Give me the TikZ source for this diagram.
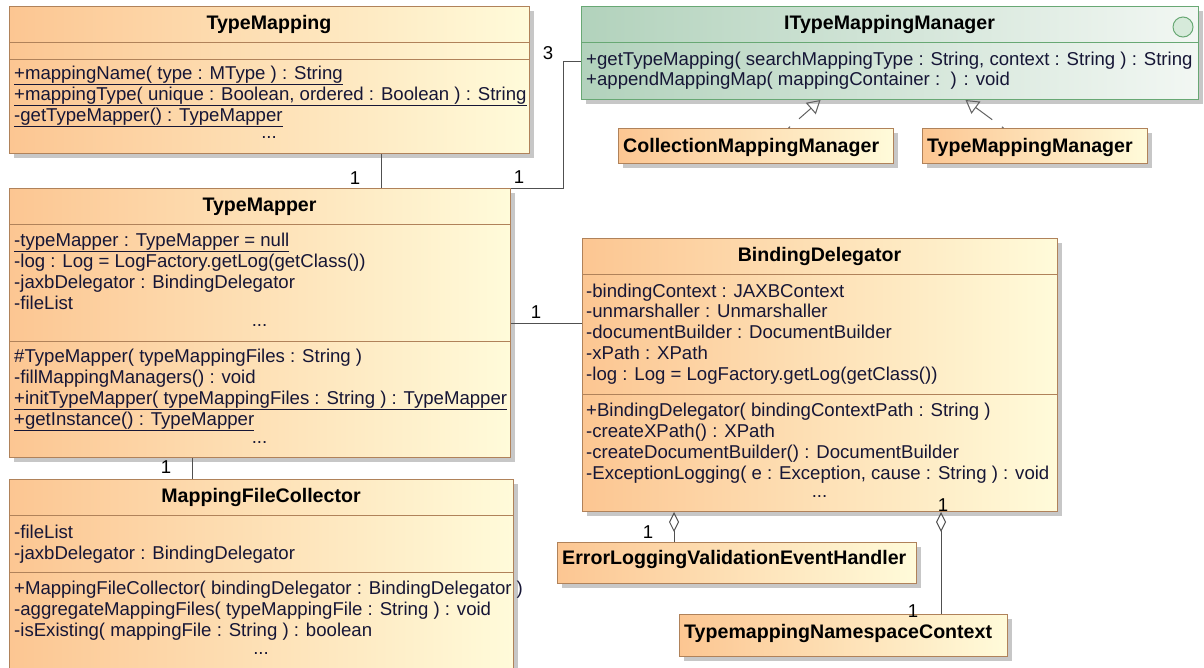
\documentclass[tikz,border=0pt]{standalone}
\usepackage{fontspec}
\setmainfont{Liberation Sans}
\usetikzlibrary{arrows.meta,shadows}

\definecolor{clsleft}{RGB}{252,198,146}
\definecolor{clsright}{RGB}{255,251,218}
\definecolor{clsborder}{RGB}{176,130,90}
\definecolor{ifleft}{RGB}{178,210,188}
\definecolor{ifright}{RGB}{242,247,243}
\definecolor{ifborder}{RGB}{104,168,116}
\definecolor{iconfill}{RGB}{214,234,218}
\definecolor{linkcol}{RGB}{80,80,80}
\definecolor{membercol}{RGB}{22,22,54}

\newcommand{\memfont}{\fontsize{18.6}{21}\selectfont}
\newcommand{\clsfont}{\fontsize{19.6}{22}\selectfont\bfseries}

\tikzset{
  classbox/.style={draw=clsborder, line width=1pt, left color=clsleft, right color=clsright,
    anchor=north west, inner sep=0pt,
    drop shadow={shadow xshift=4pt, shadow yshift=-4pt, fill=black!22, opacity=1}},
  ifacebox/.style={classbox, draw=ifborder, left color=ifleft, right color=ifright},
  sepline/.style={draw=clsborder, line width=1pt},
  ifsepline/.style={draw=ifborder, line width=1pt},
  clsname/.style={inner sep=0pt, font=\clsfont, text=black},
  member/.style={inner sep=0pt, anchor=base west, font=\memfont, text=membercol},
  dots/.style={inner sep=0pt, font=\memfont, text=membercol},
  mult/.style={inner sep=0pt, font=\memfont, text=black},
  link/.style={draw=linkcol, line width=1pt},
  realize/.style={draw=linkcol!90, line width=1pt, dash pattern=on 2pt off 12pt on 80pt,
    -{Triangle[open, length=13pt, width=15pt]}},
  aggr/.style={draw=linkcol, line width=1pt, -{Diamond[open, length=20pt, width=10pt]}}
}

\begin{document}
\begin{tikzpicture}[x=1pt, y=-1pt]
    \fill[white] (0,0) rectangle (1204,667);
    \useasboundingbox (0,0) rectangle (1204,667);

    % TypeMapping
    \node[classbox, minimum width=520pt, minimum height=147pt] (tmap) at (9,6) {};
    \draw[sepline] (tmap.west |- 0,42) -- (tmap.east |- 0,42);
    \draw[sepline] (tmap.west |- 0,59) -- (tmap.east |- 0,59);
    \node[clsname, anchor=base] (tmapname) at (269,29) {TypeMapping};
    \foreach \txt [count=\i] in {{\underline{+mappingName( type : MType ) : String}},
        {\underline{+mappingType( unique : Boolean, ordered : Boolean ) : String}},
        {\underline{-getTypeMapper() : TypeMapper}}}
        { \node[member] (tmapop\i) at (14, 58+21*\i) {\txt}; }
    \node[dots] (tmapdots) at (269,138) {...};

    % ITypeMappingManager
    \node[ifacebox, minimum width=617pt, minimum height=93pt] (itmm) at (581,6) {};
    \draw[ifsepline] (itmm.west |- 0,42) -- (itmm.east |- 0,42);
    \node[clsname, anchor=base] (itmmname) at (889.5,29) {ITypeMappingManager};
    \node[circle, draw=ifborder, line width=1pt, fill=iconfill, minimum size=20pt, inner sep=0pt] (itmmicon) at (1183,27) {};
    \foreach \txt [count=\i] in {{+getTypeMapping( searchMappingType : String, context : String ) : String},
        {+appendMappingMap( mappingContainer :\ \ ) : void}}
        { \node[member] (itmmop\i) at (586, 45+20*\i) {\txt}; }

    % realizations
    \node[classbox, minimum width=275pt, minimum height=35pt] (colmgr) at (618,128) {};
    \node[clsname, anchor=base west] (colmgrname) at (623,152) {CollectionMappingManager};
    \node[classbox, minimum width=225pt, minimum height=35pt] (tmmgr) at (922,128) {};
    \node[clsname, anchor=base west] (tmmgrname) at (927,152) {TypeMappingManager};

    % TypeMapper
    \node[classbox, minimum width=501pt, minimum height=269pt] (tmapper) at (9,188) {};
    \draw[sepline] (tmapper.west |- 0,224) -- (tmapper.east |- 0,224);
    \draw[sepline] (tmapper.west |- 0,341) -- (tmapper.east |- 0,341);
    \node[clsname, anchor=base] (tmappername) at (259.5,211) {TypeMapper};
    \foreach \txt [count=\i] in {{\underline{-typeMapper : TypeMapper = null}},
        {-log : Log = LogFactory.getLog(getClass())},
        {-jaxbDelegator : BindingDelegator},
        {-fileList}}
        { \node[member] (tmapperat\i) at (14, 225+21*\i) {\txt}; }
    \node[dots] (tmapperdotsa) at (259.5,325) {...};
    \foreach \txt [count=\i] in {{\#TypeMapper( typeMappingFiles : String )},
        {-fillMappingManagers() : void},
        {\underline{+initTypeMapper( typeMappingFiles : String ) : TypeMapper}},
        {\underline{+getInstance() : TypeMapper}}}
        { \node[member] (tmapperop\i) at (14, 341+21*\i) {\txt}; }
    \node[dots] (tmapperdotsb) at (259.5,442) {...};

    % BindingDelegator
    \node[classbox, minimum width=475pt, minimum height=273pt] (bind) at (582,238) {};
    \draw[sepline] (bind.west |- 0,274) -- (bind.east |- 0,274);
    \draw[sepline] (bind.west |- 0,394) -- (bind.east |- 0,394);
    \node[clsname, anchor=base] (bindname) at (819.5,261) {BindingDelegator};
    \foreach \txt [count=\i] in {{-bindingContext : JAXBContext},
        {-unmarshaller : Unmarshaller},
        {-documentBuilder : DocumentBuilder},
        {-xPath : XPath},
        {-log : Log = LogFactory.getLog(getClass())}}
        { \node[member] (bindat\i) at (586, 276.25+20.75*\i) {\txt}; }
    \foreach \txt [count=\i] in {{+BindingDelegator( bindingContextPath : String )},
        {-createXPath() : XPath},
        {-createDocumentBuilder() : DocumentBuilder},
        {-ExceptionLogging( e : Exception, cause : String ) : void}}
        { \node[member] (bindop\i) at (586, 395+21*\i) {\txt}; }
    \node[dots] (binddots) at (819.5,496) {...};

    % MappingFileCollector
    \node[classbox, minimum width=504pt, minimum height=200pt] (mfc) at (9,479) {};
    \draw[sepline] (mfc.west |- 0,515) -- (mfc.east |- 0,515);
    \draw[sepline] (mfc.west |- 0,572) -- (mfc.east |- 0,572);
    \node[clsname, anchor=base] (mfcname) at (261,502) {MappingFileCollector};
    \foreach \txt [count=\i] in {{-fileList}, {-jaxbDelegator : BindingDelegator}}
        { \node[member] (mfcat\i) at (14, 517+21*\i) {\txt}; }
    \foreach \txt [count=\i] in {{+MappingFileCollector( bindingDelegator : BindingDelegator )},
        {-aggregateMappingFiles( typeMappingFile : String ) : void},
        {-isExisting( mappingFile : String ) : boolean}}
        { \node[member] (mfcop\i) at (14, 573+21*\i) {\txt}; }
    \node[dots] (mfcdots) at (261,653) {...};

    % aggregated parts
    \node[classbox, minimum width=359pt, minimum height=41pt] (errh) at (557,542) {};
    \node[clsname, anchor=base west] (errhname) at (562,564) {ErrorLoggingValidationEventHandler};
    \node[classbox, minimum width=328pt, minimum height=42pt] (nsctx) at (679,614) {};
    \node[clsname, anchor=base west] (nsctxname) at (684,638) {TypemappingNamespaceContext};

    % connectors
    \coordinate (k1) at (381,0);
    \coordinate (k2) at (563,61);
    \coordinate (k3) at (0,323);
    \coordinate (k4) at (192,0);
    \coordinate (k6) at (674,0);
    \coordinate (k7) at (941,0);

    \draw[link] (tmap.south -| k1) -- (tmapper.north -| k1);
    \draw[link] (tmapper.north east) -| (k2) -- (itmm.west |- k2);
    \draw[link] (tmapper.east |- k3) -- (bind.west |- k3);
    \draw[link] (tmapper.south -| k4) -- (mfc.north -| k4);
    \draw[realize] ([xshift=32.5pt]colmgr.north) -- ([xshift=-69.5pt]itmm.south);
    \draw[realize] ([xshift=-31.5pt]tmmgr.north) -- ([xshift=75.5pt]itmm.south);
    \draw[aggr] (errh.north -| k6) -- (bind.south -| k6);
    \draw[aggr] (nsctx.north -| k7) -- (bind.south -| k7);

    % multiplicities
    \node[mult] (m1) at (355,178) {1};
    \node[mult] (m2) at (519,177) {1};
    \node[mult] (m3) at (548,53) {3};
    \node[mult] (m4) at (536,312) {1};
    \node[mult] (m5) at (166,467) {1};
    \node[mult] (m6) at (648,532) {1};
    \node[mult] (m7) at (943,505) {1};
    \node[mult] (m8) at (913,611) {1};

\end{tikzpicture}
\end{document}
